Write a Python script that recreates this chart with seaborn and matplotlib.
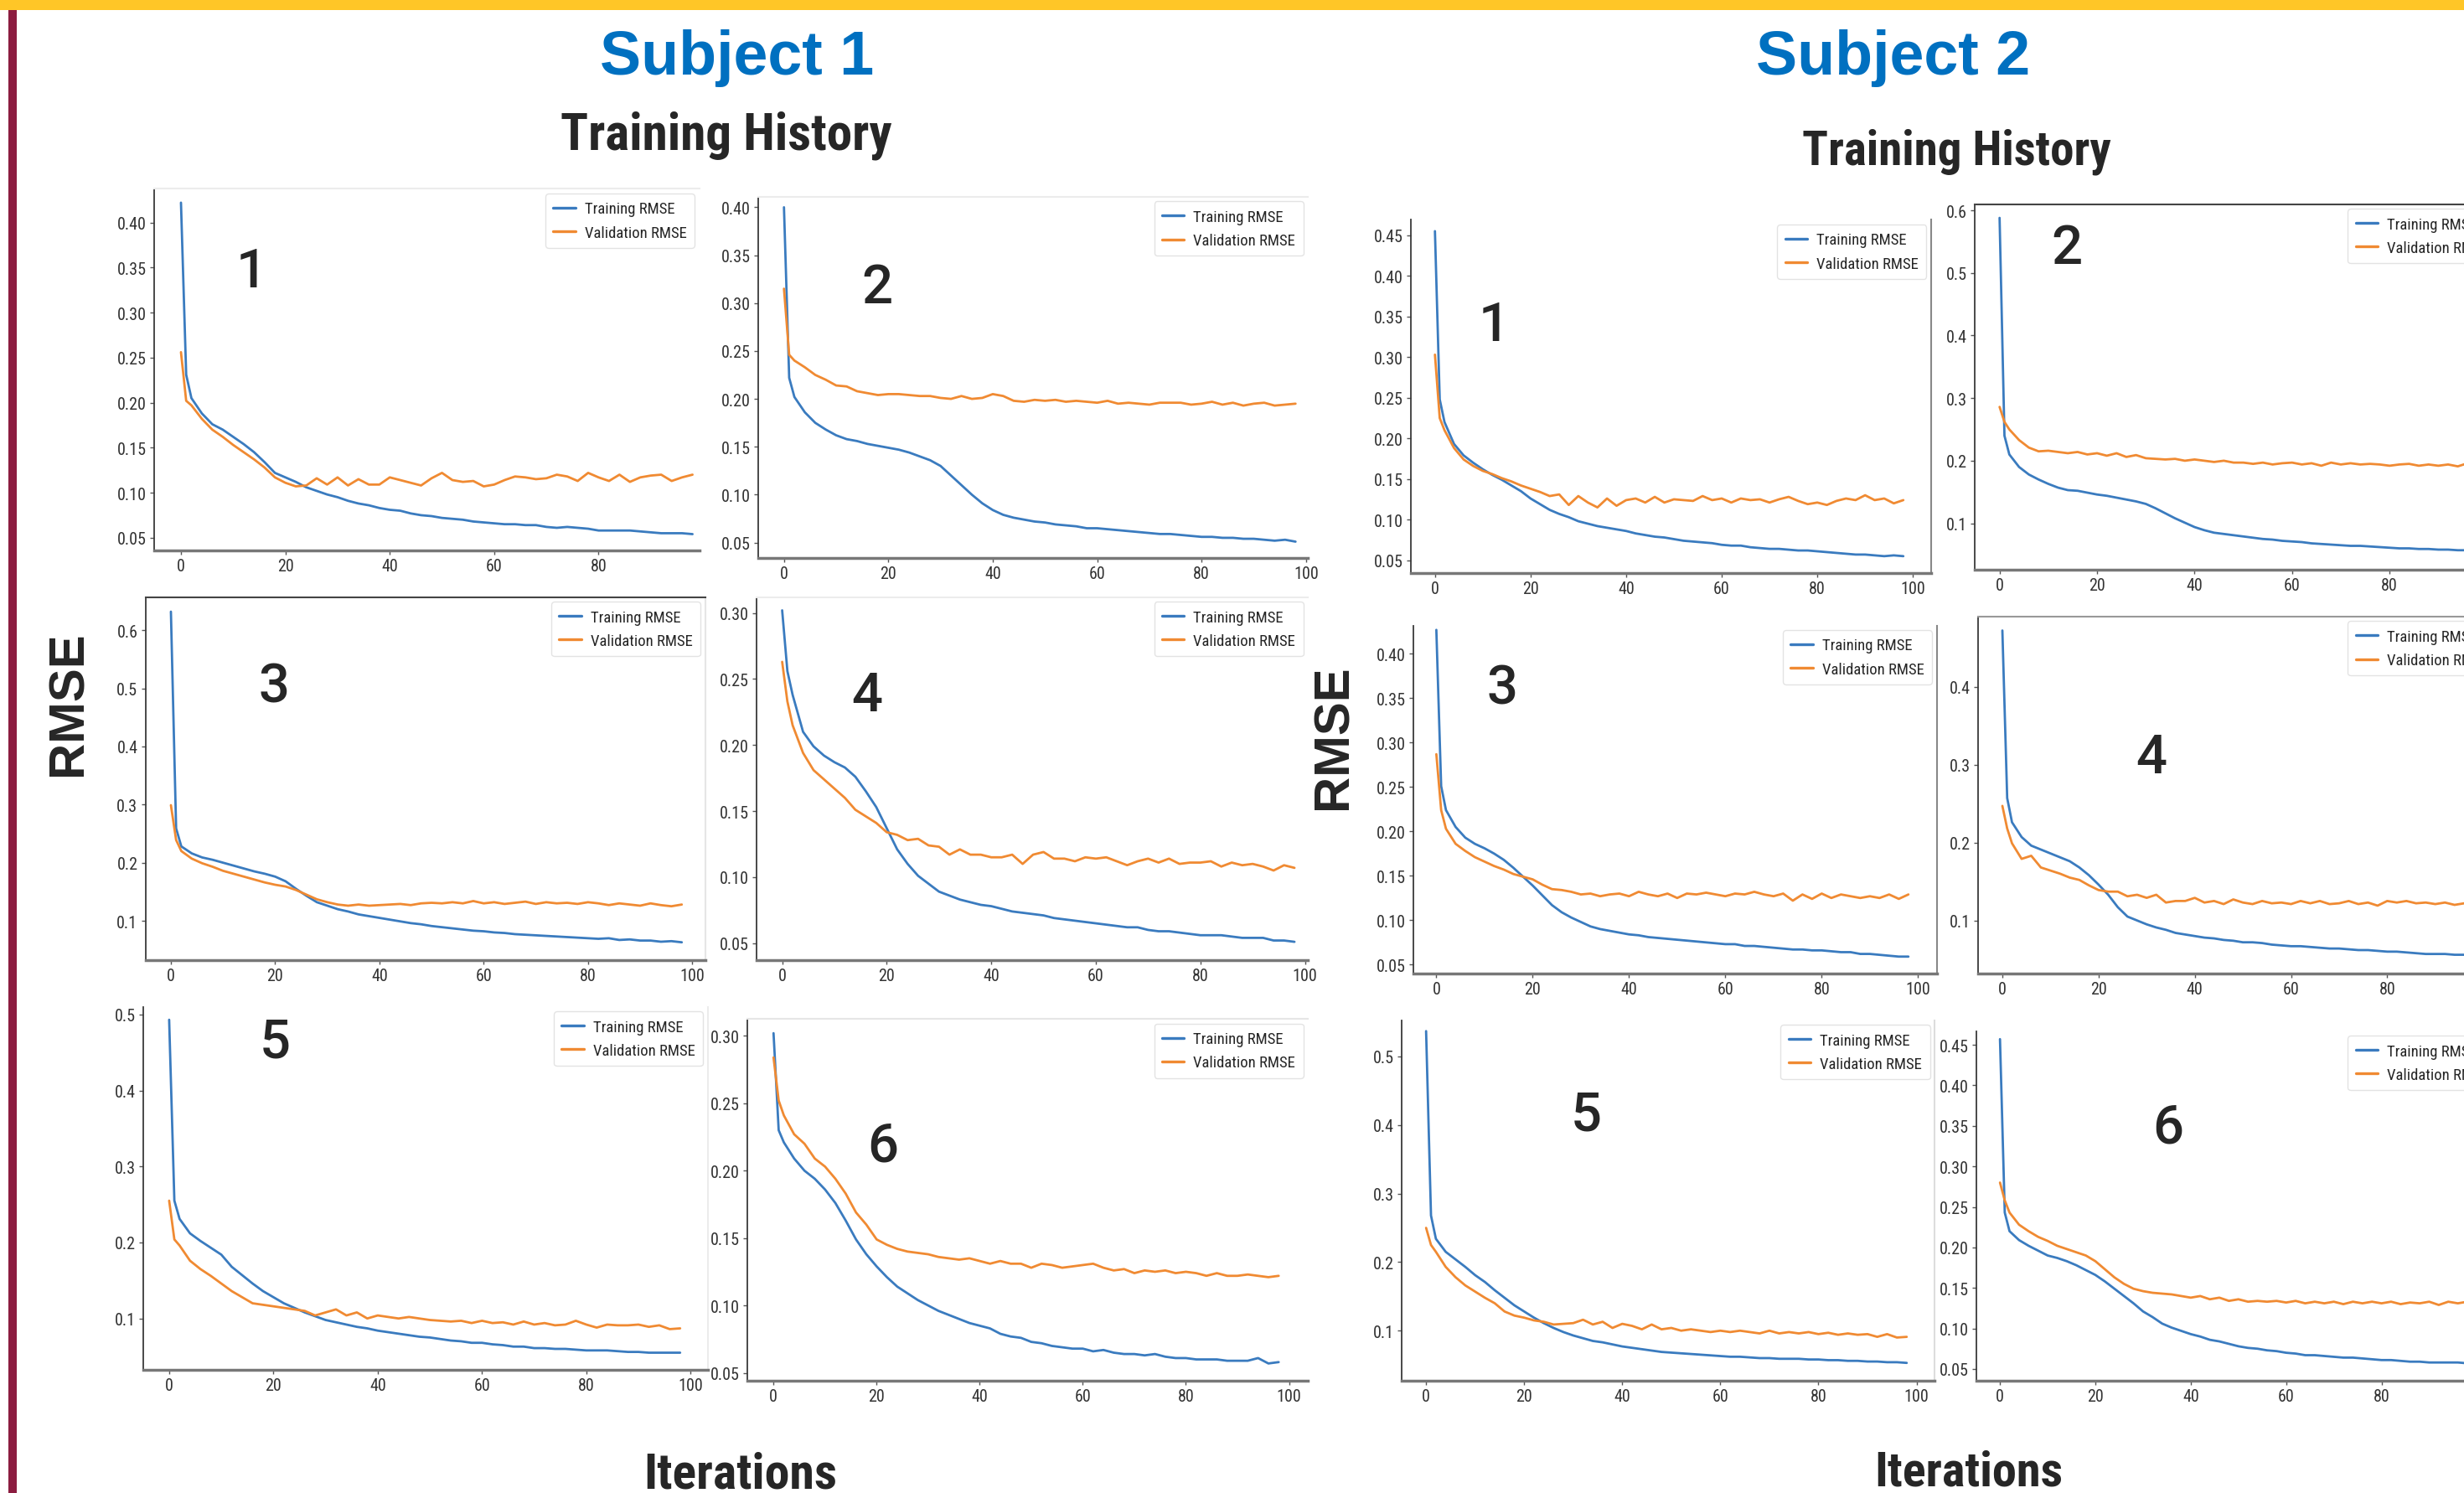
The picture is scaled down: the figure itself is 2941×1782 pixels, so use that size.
import matplotlib
matplotlib.use('Agg')
import matplotlib.pyplot as plt
import seaborn as sns
from matplotlib import font_manager as fm
from matplotlib.patches import Rectangle
from matplotlib.ticker import MultipleLocator

# epochs (every 2nd epoch after the first drop)
epochs = [0, 1, 2, 4, 6, 8, 10, 12, 14, 16,
          18, 20, 22, 24, 26, 28, 30, 32, 34, 36,
          38, 40, 42, 44, 46, 48, 50, 52, 54, 56,
          58, 60, 62, 64, 66, 68, 70, 72, 74, 76,
          78, 80, 82, 84, 86, 88, 90, 92, 94, 96,
          98]

# ---- Subject 1 ----
s1_train_1 = [0.422, 0.231, 0.205, 0.188, 0.176, 0.170, 0.162, 0.154, 0.145, 0.134,
              0.122, 0.117, 0.112, 0.106, 0.102, 0.098, 0.095, 0.091, 0.088, 0.086,
              0.083, 0.081, 0.080, 0.077, 0.075, 0.074, 0.072, 0.071, 0.070, 0.068,
              0.067, 0.066, 0.065, 0.065, 0.064, 0.064, 0.062, 0.061, 0.062, 0.061,
              0.060, 0.058, 0.058, 0.058, 0.058, 0.057, 0.056, 0.055, 0.055, 0.055,
              0.054]
s1_val_1 = [0.256, 0.202, 0.197, 0.182, 0.170, 0.162, 0.153, 0.145, 0.137, 0.128,
            0.117, 0.111, 0.107, 0.108, 0.116, 0.109, 0.117, 0.108, 0.115, 0.109,
            0.109, 0.117, 0.114, 0.111, 0.108, 0.116, 0.122, 0.114, 0.112, 0.113,
            0.107, 0.109, 0.114, 0.118, 0.117, 0.115, 0.116, 0.120, 0.118, 0.113,
            0.122, 0.117, 0.113, 0.120, 0.112, 0.117, 0.119, 0.120, 0.113, 0.117,
            0.120]
s1_train_2 = [0.400, 0.222, 0.202, 0.186, 0.175, 0.168, 0.162, 0.158, 0.156, 0.153,
              0.151, 0.149, 0.147, 0.144, 0.140, 0.136, 0.130, 0.120, 0.110, 0.100,
              0.091, 0.084, 0.079, 0.076, 0.074, 0.072, 0.071, 0.069, 0.068, 0.067,
              0.065, 0.065, 0.064, 0.063, 0.062, 0.061, 0.060, 0.059, 0.059, 0.058,
              0.057, 0.056, 0.056, 0.055, 0.055, 0.054, 0.054, 0.053, 0.052, 0.053,
              0.051]
s1_val_2 = [0.315, 0.246, 0.240, 0.233, 0.225, 0.220, 0.214, 0.213, 0.208, 0.206,
            0.204, 0.205, 0.205, 0.204, 0.203, 0.203, 0.201, 0.200, 0.203, 0.200,
            0.201, 0.205, 0.203, 0.198, 0.197, 0.199, 0.198, 0.199, 0.197, 0.198,
            0.197, 0.196, 0.198, 0.195, 0.196, 0.195, 0.194, 0.196, 0.196, 0.196,
            0.194, 0.195, 0.197, 0.194, 0.196, 0.193, 0.195, 0.196, 0.193, 0.194,
            0.195]
s1_train_3 = [0.632, 0.259, 0.228, 0.216, 0.209, 0.205, 0.200, 0.195, 0.190, 0.185,
              0.181, 0.176, 0.168, 0.155, 0.143, 0.132, 0.126, 0.120, 0.116, 0.111,
              0.108, 0.105, 0.102, 0.099, 0.096, 0.094, 0.091, 0.089, 0.087, 0.085,
              0.083, 0.082, 0.080, 0.079, 0.077, 0.076, 0.075, 0.074, 0.073, 0.072,
              0.071, 0.070, 0.069, 0.070, 0.067, 0.068, 0.066, 0.066, 0.064, 0.065,
              0.063]
s1_val_3 = [0.299, 0.239, 0.220, 0.207, 0.199, 0.193, 0.186, 0.181, 0.176, 0.171,
            0.166, 0.162, 0.159, 0.153, 0.145, 0.137, 0.132, 0.128, 0.126, 0.128,
            0.126, 0.127, 0.128, 0.129, 0.127, 0.130, 0.131, 0.130, 0.132, 0.130,
            0.134, 0.130, 0.132, 0.129, 0.131, 0.133, 0.129, 0.132, 0.130, 0.131,
            0.129, 0.132, 0.130, 0.127, 0.130, 0.128, 0.126, 0.130, 0.127, 0.125,
            0.128]
s1_train_4 = [0.302, 0.256, 0.238, 0.210, 0.199, 0.192, 0.187, 0.183, 0.176, 0.165,
              0.153, 0.137, 0.121, 0.110, 0.101, 0.095, 0.089, 0.086, 0.083, 0.081,
              0.079, 0.078, 0.076, 0.074, 0.073, 0.072, 0.071, 0.069, 0.068, 0.067,
              0.066, 0.065, 0.064, 0.063, 0.062, 0.062, 0.060, 0.059, 0.059, 0.058,
              0.057, 0.056, 0.056, 0.056, 0.055, 0.054, 0.054, 0.054, 0.052, 0.052,
              0.051]
s1_val_4 = [0.263, 0.233, 0.215, 0.194, 0.181, 0.174, 0.167, 0.160, 0.151, 0.146,
            0.141, 0.134, 0.132, 0.128, 0.129, 0.124, 0.123, 0.117, 0.121, 0.117,
            0.117, 0.115, 0.115, 0.117, 0.110, 0.117, 0.119, 0.114, 0.114, 0.112,
            0.115, 0.114, 0.115, 0.112, 0.109, 0.112, 0.114, 0.111, 0.114, 0.110,
            0.111, 0.111, 0.112, 0.108, 0.111, 0.109, 0.110, 0.108, 0.105, 0.109,
            0.107]
s1_train_5 = [0.493, 0.255, 0.231, 0.212, 0.202, 0.193, 0.184, 0.168, 0.157, 0.146,
              0.136, 0.128, 0.120, 0.114, 0.108, 0.103, 0.098, 0.095, 0.092, 0.089,
              0.087, 0.084, 0.082, 0.080, 0.078, 0.076, 0.075, 0.073, 0.071, 0.070,
              0.068, 0.068, 0.066, 0.065, 0.063, 0.063, 0.061, 0.061, 0.060, 0.060,
              0.059, 0.058, 0.058, 0.058, 0.057, 0.056, 0.056, 0.055, 0.055, 0.055,
              0.055]
s1_val_5 = [0.255, 0.204, 0.196, 0.176, 0.165, 0.156, 0.146, 0.136, 0.128, 0.120,
            0.118, 0.116, 0.114, 0.112, 0.110, 0.104, 0.108, 0.112, 0.104, 0.108,
            0.100, 0.104, 0.102, 0.100, 0.102, 0.100, 0.098, 0.097, 0.096, 0.097,
            0.094, 0.097, 0.094, 0.095, 0.092, 0.096, 0.092, 0.094, 0.091, 0.092,
            0.097, 0.092, 0.088, 0.092, 0.091, 0.091, 0.092, 0.089, 0.091, 0.086,
            0.087]
s1_train_6 = [0.302, 0.230, 0.221, 0.209, 0.200, 0.194, 0.186, 0.176, 0.163, 0.149,
              0.138, 0.129, 0.121, 0.114, 0.109, 0.104, 0.100, 0.096, 0.093, 0.090,
              0.087, 0.085, 0.083, 0.079, 0.077, 0.076, 0.073, 0.072, 0.070, 0.069,
              0.068, 0.068, 0.066, 0.067, 0.065, 0.064, 0.064, 0.063, 0.064, 0.062,
              0.061, 0.061, 0.060, 0.060, 0.060, 0.059, 0.059, 0.059, 0.061, 0.057,
              0.058]
s1_val_6 = [0.284, 0.252, 0.241, 0.227, 0.220, 0.209, 0.203, 0.194, 0.183, 0.169,
            0.160, 0.149, 0.145, 0.142, 0.140, 0.139, 0.138, 0.136, 0.135, 0.134,
            0.135, 0.133, 0.131, 0.133, 0.131, 0.131, 0.128, 0.131, 0.130, 0.128,
            0.129, 0.130, 0.131, 0.128, 0.126, 0.127, 0.124, 0.126, 0.125, 0.126,
            0.124, 0.125, 0.124, 0.122, 0.124, 0.122, 0.122, 0.123, 0.122, 0.121,
            0.122]

# ---- Subject 2 ----
s2_train_1 = [0.455, 0.248, 0.220, 0.193, 0.179, 0.170, 0.162, 0.155, 0.149, 0.142,
              0.135, 0.126, 0.119, 0.112, 0.107, 0.103, 0.098, 0.095, 0.092, 0.090,
              0.088, 0.086, 0.083, 0.081, 0.079, 0.078, 0.076, 0.074, 0.073, 0.072,
              0.071, 0.069, 0.068, 0.068, 0.066, 0.065, 0.064, 0.064, 0.063, 0.062,
              0.062, 0.061, 0.060, 0.059, 0.058, 0.057, 0.057, 0.056, 0.055, 0.056,
              0.055]
s2_val_1 = [0.303, 0.225, 0.210, 0.188, 0.174, 0.166, 0.160, 0.156, 0.151, 0.147,
            0.142, 0.138, 0.134, 0.129, 0.131, 0.118, 0.129, 0.121, 0.115, 0.126,
            0.117, 0.124, 0.126, 0.121, 0.128, 0.121, 0.125, 0.124, 0.123, 0.129,
            0.124, 0.126, 0.121, 0.126, 0.124, 0.125, 0.121, 0.125, 0.128, 0.123,
            0.119, 0.121, 0.118, 0.123, 0.126, 0.124, 0.130, 0.124, 0.126, 0.120,
            0.124]
s2_train_2 = [0.588, 0.240, 0.210, 0.190, 0.178, 0.170, 0.163, 0.157, 0.153, 0.152,
              0.149, 0.146, 0.144, 0.141, 0.138, 0.135, 0.131, 0.124, 0.116, 0.108,
              0.101, 0.094, 0.089, 0.085, 0.083, 0.081, 0.079, 0.077, 0.075, 0.074,
              0.072, 0.071, 0.070, 0.068, 0.067, 0.066, 0.065, 0.064, 0.064, 0.063,
              0.062, 0.061, 0.060, 0.060, 0.059, 0.059, 0.058, 0.058, 0.057, 0.057,
              0.056]
s2_val_2 = [0.286, 0.262, 0.250, 0.233, 0.221, 0.215, 0.216, 0.214, 0.212, 0.214,
            0.210, 0.212, 0.208, 0.212, 0.206, 0.209, 0.204, 0.203, 0.202, 0.203,
            0.200, 0.202, 0.200, 0.198, 0.200, 0.197, 0.197, 0.195, 0.197, 0.194,
            0.196, 0.197, 0.194, 0.196, 0.192, 0.197, 0.194, 0.196, 0.194, 0.195,
            0.194, 0.192, 0.194, 0.195, 0.192, 0.194, 0.192, 0.194, 0.191, 0.196,
            0.194]
s2_train_3 = [0.427, 0.251, 0.224, 0.205, 0.193, 0.186, 0.181, 0.175, 0.168, 0.159,
              0.149, 0.139, 0.128, 0.117, 0.109, 0.103, 0.098, 0.093, 0.090, 0.088,
              0.086, 0.084, 0.083, 0.081, 0.080, 0.079, 0.078, 0.077, 0.076, 0.075,
              0.074, 0.073, 0.073, 0.071, 0.071, 0.070, 0.069, 0.068, 0.067, 0.067,
              0.066, 0.066, 0.065, 0.064, 0.064, 0.062, 0.062, 0.061, 0.060, 0.059,
              0.059]
s2_val_3 = [0.287, 0.224, 0.203, 0.186, 0.178, 0.171, 0.166, 0.161, 0.157, 0.152,
            0.149, 0.146, 0.140, 0.135, 0.134, 0.132, 0.129, 0.130, 0.127, 0.129,
            0.130, 0.127, 0.132, 0.129, 0.127, 0.130, 0.125, 0.130, 0.129, 0.131,
            0.129, 0.127, 0.130, 0.129, 0.132, 0.129, 0.127, 0.130, 0.122, 0.129,
            0.124, 0.130, 0.125, 0.129, 0.127, 0.125, 0.127, 0.125, 0.129, 0.124,
            0.129]
s2_train_4 = [0.472, 0.257, 0.226, 0.207, 0.196, 0.191, 0.186, 0.181, 0.176, 0.168,
              0.158, 0.146, 0.133, 0.117, 0.105, 0.100, 0.095, 0.091, 0.088, 0.084,
              0.082, 0.080, 0.078, 0.077, 0.075, 0.074, 0.072, 0.072, 0.071, 0.069,
              0.068, 0.067, 0.067, 0.066, 0.065, 0.064, 0.064, 0.063, 0.062, 0.062,
              0.061, 0.060, 0.060, 0.059, 0.058, 0.057, 0.057, 0.057, 0.056, 0.056,
              0.055]
s2_val_4 = [0.247, 0.218, 0.199, 0.179, 0.183, 0.168, 0.164, 0.160, 0.155, 0.152,
            0.145, 0.139, 0.137, 0.137, 0.131, 0.133, 0.129, 0.133, 0.123, 0.125,
            0.125, 0.129, 0.123, 0.125, 0.121, 0.127, 0.123, 0.121, 0.125, 0.122,
            0.123, 0.121, 0.125, 0.122, 0.125, 0.121, 0.122, 0.125, 0.121, 0.123,
            0.119, 0.125, 0.123, 0.125, 0.122, 0.123, 0.121, 0.123, 0.120, 0.122,
            0.120]
s2_train_5 = [0.537, 0.268, 0.234, 0.215, 0.204, 0.193, 0.181, 0.171, 0.159, 0.148,
              0.137, 0.128, 0.119, 0.111, 0.104, 0.098, 0.093, 0.089, 0.085, 0.083,
              0.080, 0.077, 0.075, 0.073, 0.071, 0.069, 0.068, 0.067, 0.066, 0.065,
              0.064, 0.063, 0.062, 0.062, 0.061, 0.060, 0.060, 0.059, 0.059, 0.059,
              0.058, 0.058, 0.057, 0.057, 0.056, 0.056, 0.055, 0.055, 0.054, 0.054,
              0.053]
s2_val_5 = [0.250, 0.225, 0.215, 0.193, 0.178, 0.166, 0.157, 0.148, 0.140, 0.128,
            0.122, 0.119, 0.115, 0.113, 0.109, 0.110, 0.111, 0.116, 0.109, 0.113,
            0.104, 0.110, 0.107, 0.102, 0.109, 0.102, 0.104, 0.100, 0.102, 0.100,
            0.098, 0.100, 0.098, 0.100, 0.098, 0.096, 0.100, 0.096, 0.098, 0.096,
            0.098, 0.095, 0.097, 0.094, 0.096, 0.094, 0.095, 0.091, 0.095, 0.090,
            0.091]
s2_train_6 = [0.457, 0.243, 0.220, 0.209, 0.202, 0.196, 0.190, 0.187, 0.183, 0.178,
              0.172, 0.166, 0.158, 0.149, 0.140, 0.131, 0.121, 0.114, 0.106, 0.101,
              0.097, 0.093, 0.090, 0.086, 0.084, 0.081, 0.078, 0.076, 0.075, 0.073,
              0.072, 0.070, 0.069, 0.067, 0.067, 0.066, 0.065, 0.064, 0.064, 0.063,
              0.062, 0.061, 0.061, 0.060, 0.059, 0.059, 0.058, 0.058, 0.058, 0.058,
              0.057]
s2_val_6 = [0.280, 0.258, 0.243, 0.228, 0.220, 0.213, 0.208, 0.202, 0.198, 0.194,
            0.190, 0.183, 0.173, 0.163, 0.155, 0.149, 0.146, 0.144, 0.143, 0.142,
            0.140, 0.138, 0.140, 0.136, 0.138, 0.134, 0.136, 0.133, 0.134, 0.133,
            0.134, 0.132, 0.134, 0.131, 0.133, 0.131, 0.133, 0.130, 0.133, 0.131,
            0.133, 0.131, 0.133, 0.130, 0.132, 0.131, 0.133, 0.129, 0.133, 0.131,
            0.133]

panel_labels = ['1', '2', '3', '4', '5', '6']
series_names = ['Training RMSE', 'Validation RMSE']

W, H = 2941, 1783
BLUE = '#3a7bbf'
ORANGE = '#f08a32'

sns.set_style('white')
plt.rcParams['font.family'] = ['DejaVu Sans']


# the screenshots use narrow type; look for any condensed face that is installed
PREF = ['liberation sans narrow', 'arial narrow', 'roboto condensed', 'noto sans',
        'open sans', 'dejavu sans', 'lato', 'inter']


def find_narrow(bold):
    found = []
    for f in fm.fontManager.ttflist:
        tag = (f.name + ' ' + f.fname.split('/')[-1]).lower()
        if not ('narrow' in tag or 'condensed' in tag or f.stretch == 'condensed'):
            continue
        if any(k in tag for k in ('semi', 'extra', 'ultra', 'italic', 'oblique', 'mono', 'light', 'thin', 'black', 'medium')):
            continue
        w = f.weight if isinstance(f.weight, int) else fm.weight_dict.get(f.weight, 400)
        if bold and not (600 <= w <= 750):
            continue
        if not bold and w != 400:
            continue
        rank = next((k for k, p in enumerate(PREF) if p in tag), len(PREF))
        found.append((rank, f.fname))
    found.sort()
    return found[0][1] if found else None


bold_narrow = find_narrow(True)
reg_narrow = find_narrow(False)


def narrow_fp(size, bold):
    path = bold_narrow if bold else reg_narrow
    if path:
        return fm.FontProperties(fname=path, size=size)
    # no condensed face: shrink a normal one so the width still fits
    return fm.FontProperties(family=['Liberation Sans', 'DejaVu Sans'],
                             weight='bold' if bold else 'normal', size=size * 0.82)


tick_fp = narrow_fp(14.5, False)
legend_fp = narrow_fp(13.5, False)
digit_fp = fm.FontProperties(family=['Roboto', 'Liberation Sans', 'DejaVu Sans'],
                             weight='medium', size=47)

fig = plt.figure(figsize=(W / 100, H / 100), dpi=100)


def fx(px):
    return px / W


def fy(py):
    return 1 - py / H


# panel boxes in pixels: left, top, right, bottom ; then xlim, ylim, y step, label baseline,
# and the colours of the top / right frame edges as they look in the screenshots
layout = [
    ((183.6, 226.2, 834.7, 658.4), (-5.2, 99.3), (0.0355, 0.4375), 0.05, (300, 343), ('#ececec', 'none')),
    ((905.2, 235.8, 1561.3, 667.4), (-4.9, 100.4), (0.0336, 0.411), 0.05, (1047, 362), ('#ececec', 'none')),
    ((173.5, 713.7, 841.8, 1147.2), (-4.9, 102.5), (0.032, 0.657), 0.1, (327, 839), ('#444444', '#e6e6e6')),
    ((903.0, 713.7, 1561.3, 1147.2), (-4.9, 100.6), (0.037, 0.312), 0.05, (1035, 849), ('#ececec', 'none')),
    ((171.4, 1202.7, 844.8, 1636.4), (-4.9, 103.3), (0.032, 0.510), 0.1, (328, 1263), ('none', '#ececec')),
    ((891.9, 1217.1, 1561.3, 1649.3), (-5.1, 103.7), (0.044, 0.3126), 0.05, (1054, 1387), ('#e6e6e6', 'none')),
    ((1684.2, 263.3, 2304.9, 685.2), (-5.0, 103.8), (0.034, 0.469), 0.05, (1783, 407), ('none', '#888888')),
    ((2357.0, 244.6, 2986.0, 680.9), (-5.1, 103.0), (0.026, 0.610), 0.1, (2467, 315), ('#444444', 'none')),
    ((1686.8, 747.5, 2311.8, 1162.9), (-4.8, 103.9), (0.040, 0.432), 0.05, (1793, 841), ('none', '#888888')),
    ((2361.3, 736.8, 2986.0, 1162.9), (-5.0, 103.8), (0.032, 0.490), 0.1, (2568, 923), ('#999999', 'none')),
    ((1672.9, 1218.6, 2309.2, 1648.5), (-5.0, 103.7), (0.0276, 0.553), 0.1, (1893, 1349), ('none', '#dddddd')),
    ((2358.7, 1231.6, 2986.0, 1648.5), (-5.0, 105.2), (0.036, 0.467), 0.05, (2588, 1365), ('none', 'none')),
]

curves = [
    (s1_train_1, s1_val_1), (s1_train_2, s1_val_2), (s1_train_3, s1_val_3),
    (s1_train_4, s1_val_4), (s1_train_5, s1_val_5), (s1_train_6, s1_val_6),
    (s2_train_1, s2_val_1), (s2_train_2, s2_val_2), (s2_train_3, s2_val_3),
    (s2_train_4, s2_val_4), (s2_train_5, s2_val_5), (s2_train_6, s2_val_6),
]

for i, ((l, t, r, b), xl, yl, step, lab_xy, edges) in enumerate(layout):
    ax = fig.add_axes([fx(l), fy(b), (r - l) / W, (b - t) / H])
    train, val = curves[i]
    sns.lineplot(x=epochs, y=train, ax=ax, color=BLUE, lw=2.0, label=series_names[0])
    sns.lineplot(x=epochs, y=val, ax=ax, color=ORANGE, lw=2.0, label=series_names[1])
    ax.set_xlim(*xl)
    ax.set_ylim(*yl)
    ax.xaxis.set_major_locator(MultipleLocator(20))
    ax.yaxis.set_major_locator(MultipleLocator(step))
    ax.set_xlabel('')
    ax.set_ylabel('')
    ax.tick_params(axis='both', which='major', length=3.5, width=1,
                   color='#555555', labelcolor='#333333', left=True, bottom=True, pad=3)
    for lbl in ax.get_xticklabels() + ax.get_yticklabels():
        lbl.set_fontproperties(tick_fp)
    ax.spines['left'].set(color='#3a3a3a', lw=1.3)
    ax.spines['bottom'].set(color='#777777', lw=2.5)
    ax.spines['top'].set(color=edges[0], lw=1.5)
    ax.spines['right'].set(color=edges[1], lw=1.5)
    leg = ax.legend(loc='upper right', prop=legend_fp, frameon=True, handlelength=1.4,
                    borderpad=0.5, labelspacing=0.55, borderaxespad=0.3, handletextpad=0.6)
    leg.get_frame().set_edgecolor('#dddddd')
    for line in leg.get_lines():
        line.set_linewidth(2.4)
    fig.text(fx(lab_xy[0]), fy(lab_xy[1]), panel_labels[i % 6], fontproperties=digit_fp,
             ha='center', va='baseline')

# headers
head_font = ['Liberation Sans', 'DejaVu Sans']
fig.text(fx(880), fy(89), 'Subject 1', color='#0070C0', fontsize=53, fontweight='bold',
         family=head_font, ha='center', va='baseline')
fig.text(fx(2260), fy(89), 'Subject 2', color='#0070C0', fontsize=53, fontweight='bold',
         family=head_font, ha='center', va='baseline')
fig.text(fx(867), fy(178.6), 'Training History', fontproperties=narrow_fp(44, True),
         ha='center', va='baseline')
fig.text(fx(2335), fy(196.4), 'Training History', fontproperties=narrow_fp(41, True),
         ha='center', va='baseline')
fig.text(fx(82), fy(840), 'RMSE', fontsize=43, fontweight='bold', rotation=90,
         family=head_font, ha='center', va='center')
fig.text(fx(1592), fy(880), 'RMSE', fontsize=43, fontweight='bold', rotation=90,
         family=head_font, ha='center', va='center')
fig.text(fx(884), fy(1777), 'Iterations', fontproperties=narrow_fp(43, True),
         ha='center', va='baseline')
fig.text(fx(2350), fy(1774), 'Iterations', fontproperties=narrow_fp(42, True),
         ha='center', va='baseline')

# slide decoration: gold top band, maroon left rule
fig.patches.append(Rectangle((0, fy(13.4)), 1, 13.4 / H, transform=fig.transFigure,
                             facecolor='#FFC627', edgecolor='none', zorder=5))
fig.patches.append(Rectangle((fx(10), 0), fx(10), fy(13.4), transform=fig.transFigure,
                             facecolor='#8C1D40', edgecolor='none', zorder=5))

fig.savefig('out.png', dpi=100)
